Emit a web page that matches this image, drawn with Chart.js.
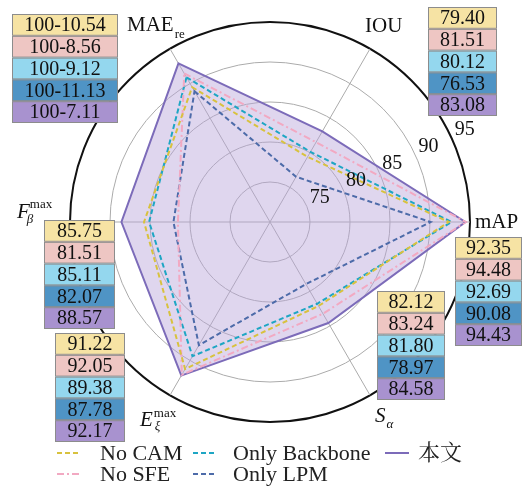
<!DOCTYPE html>
<html>
<head>
<meta charset="utf-8">
<script src="https://cdn.jsdelivr.net/npm/chart.js@4"></script>
<style>
  html, body { margin: 0; padding: 0; background: #fff; }
  #wrap { width: 524px; height: 486px; position: relative; }
</style>
</head>
<body>
<div id="wrap"><canvas id="c" width="524" height="486"></canvas></div>
<script>
// Radar axes (clockwise, starting with MAE at upper left)
const axes = ['MAE', 'IOU', 'mAP', 'S', 'E', 'F'];
const seriesNames = ['No CAM', 'No SFE', 'Only Backbone', 'Only LPM', '本文'];

// Metric values per series (same order as seriesNames)
const maeError = [10.54, 8.56, 9.12, 11.13, 7.11];   // plotted as 100 - error
const iou      = [79.40, 81.51, 80.12, 76.53, 83.08];
const mAP      = [92.35, 94.48, 92.69, 90.08, 94.43];
const sAlpha   = [82.12, 83.24, 81.80, 78.97, 84.58];
const eMax     = [91.22, 92.05, 89.38, 87.78, 92.17];
const fMax     = [85.75, 81.51, 85.11, 82.07, 88.57];

const tickValues = [75, 80, 85, 90, 95];

const lineColors = ['#d8c23e', '#f2a9c2', '#1ea6c4', '#4d6ba9', '#7c6bb9'];
const lineDashes = [[5, 3], [7, 3, 2, 3], [5, 3], [5, 3], []];
const rowColors  = ['#f6e3a4', '#eec6c3', '#94d7ee', '#4f94c5', '#a892cf'];

const SERIF = '"Liberation Serif", "Times New Roman", serif';
const CJK = '"Liberation Serif", "Noto Serif CJK SC", "Noto Sans CJK SC", serif';

const datasets = seriesNames.map((name, i) => ({
  label: name,
  data: [100 - maeError[i], iou[i], mAP[i], sAlpha[i], eMax[i], fMax[i]],
  borderColor: lineColors[i],
  borderDash: lineDashes[i],
  borderWidth: 2,
  fill: i === 4,
  backgroundColor: i === 4 ? 'rgba(183,165,218,0.45)' : 'rgba(0,0,0,0)',
  pointRadius: 0
}));

// table columns per axis: text and box placement
const tableCols = {
  MAE: { vals: maeError.map(v => '100-' + v.toFixed(2)), x: 12, y: 14, w: 106 },
  IOU: { vals: iou.map(v => v.toFixed(2)), x: 428, y: 7, w: 69 },
  mAP: { vals: mAP.map(v => v.toFixed(2)), x: 455, y: 237, w: 67 },
  S:   { vals: sAlpha.map(v => v.toFixed(2)), x: 377, y: 291, w: 68 },
  E:   { vals: eMax.map(v => v.toFixed(2)), x: 55, y: 333, w: 70 },
  F:   { vals: fMax.map(v => v.toFixed(2)), x: 44, y: 220, w: 71 }
};
const ROW_H = 21.8;

function drawTable(ctx, t) {
  ctx.font = '20px ' + SERIF;
  ctx.textAlign = 'center';
  ctx.textBaseline = 'middle';
  t.vals.forEach((txt, i) => {
    const y = t.y + i * ROW_H;
    ctx.fillStyle = rowColors[i];
    ctx.fillRect(t.x, y, t.w, ROW_H);
    ctx.strokeStyle = '#8c8c8c';
    ctx.lineWidth = 1;
    ctx.strokeRect(t.x + 0.5, y + 0.5, t.w - 1, ROW_H - 1);
    ctx.fillStyle = '#111';
    ctx.fillText(txt, t.x + t.w / 2, y + ROW_H / 2 + 1);
  });
}

// text with optional subscript / superscript
function richLabel(ctx, x, y, main, opt) {
  ctx.textAlign = 'left';
  ctx.textBaseline = 'alphabetic';
  ctx.fillStyle = '#111';
  ctx.font = (opt.italic ? 'italic ' : '') + opt.size + 'px ' + SERIF;
  ctx.fillText(main, x, y);
  const w = ctx.measureText(main).width;
  if (opt.sup) {
    ctx.font = opt.supSize + 'px ' + SERIF;
    ctx.fillText(opt.sup, x + w + (opt.supDx || 0), y + opt.supDy);
  }
  if (opt.sub) {
    ctx.font = (opt.subItalic ? 'italic ' : '') + opt.subSize + 'px ' + SERIF;
    ctx.fillText(opt.sub, x + w + (opt.subDx || 0), y + opt.subDy);
  }
}

const decor = {
  id: 'decor',
  afterDraw(chart) {
    const ctx = chart.ctx;
    const r = chart.scales.r;
    ctx.save();

    // tick labels along a 25 degree ray
    const a = 25 * Math.PI / 180;
    ctx.font = '20px ' + SERIF;
    ctx.fillStyle = '#111';
    ctx.textAlign = 'center';
    ctx.textBaseline = 'middle';
    tickValues.forEach(v => {
      const d = r.getDistanceFromCenterForValue(v) + 15;
      ctx.fillText(String(v), r.xCenter + d * Math.cos(a), r.yCenter - d * Math.sin(a) - 1);
    });

    // axis titles
    richLabel(ctx, 127, 31, 'MAE', { size: 21, sub: 're', subSize: 13, subDx: 1, subDy: 7 });
    richLabel(ctx, 365, 32, 'IOU', { size: 21 });
    richLabel(ctx, 475, 228, 'mAP', { size: 21 });
    richLabel(ctx, 17, 218, 'F', { size: 21, italic: true, sup: 'max', supSize: 13, supDx: 0, supDy: -10, sub: 'β', subSize: 13, subItalic: true, subDx: -3, subDy: 5 });
    richLabel(ctx, 140, 426, 'E', { size: 21, italic: true, sup: 'max', supSize: 13, supDx: 1, supDy: -9, sub: 'ξ', subSize: 13, subItalic: true, subDx: 2, subDy: 4 });
    richLabel(ctx, 375, 422, 'S', { size: 21, italic: true, sub: 'α', subSize: 13, subItalic: true, subDx: 1, subDy: 6 });

    // value tables
    axes.forEach(k => drawTable(ctx, tableCols[k]));

    // legend: 3 columns, 2 rows
    const cols = [{ sx: 57, tx: 100 }, { sx: 193, tx: 233 }, { sx: 385, tx: 418 }];
    const rows = [453, 474];
    const order = [[0, 0, 0], [1, 0, 1], [2, 1, 0], [3, 1, 1], [4, 2, 0]];
    order.forEach(([di, c, rw]) => {
      const ds = chart.data.datasets[di];
      const y = rows[rw];
      ctx.strokeStyle = ds.borderColor;
      ctx.lineWidth = 2;
      ctx.setLineDash(ds.borderDash);
      ctx.beginPath();
      ctx.moveTo(cols[c].sx, y);
      ctx.lineTo(cols[c].sx + 24, y);
      ctx.stroke();
      ctx.setLineDash([]);
      ctx.font = '22px ' + CJK;
      ctx.fillStyle = '#222';
      ctx.textAlign = 'left';
      ctx.textBaseline = 'middle';
      ctx.fillText(ds.label, cols[c].tx, y + 1);
    });

    ctx.restore();
  }
};

new Chart(document.getElementById('c'), {
  type: 'radar',
  data: { labels: axes, datasets },
  options: {
    responsive: false,
    animation: false,
    devicePixelRatio: 1,
    layout: { padding: { left: 70, right: 54, top: 22, bottom: 64 } },
    plugins: { legend: { display: false }, tooltip: { enabled: false } },
    elements: { line: { tension: 0 }, point: { radius: 0 } },
    scales: {
      r: {
        min: 70,
        max: 95,
        startAngle: -30,
        ticks: { display: false, stepSize: 5 },
        pointLabels: { display: false },
        grid: {
          circular: true,
          color: c => (c.tick && c.tick.value === 95) ? '#111' : '#ababab',
          lineWidth: c => (c.tick && c.tick.value === 95) ? 2 : 1
        },
        angleLines: { color: '#ababab', lineWidth: 1 }
      }
    }
  },
  plugins: [decor]
});
</script>
</body>
</html>
